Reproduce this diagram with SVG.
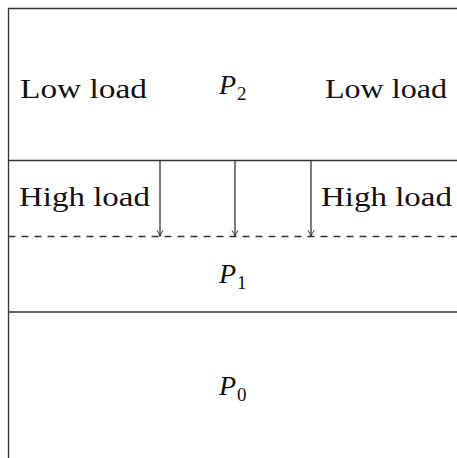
<svg xmlns="http://www.w3.org/2000/svg" width="457" height="458" viewBox="0 0 457 458">
<style>
.ln{stroke:#333;stroke-width:1.3;fill:none}
.ds{stroke:#333;stroke-width:1.3;fill:none;stroke-dasharray:7 6}
.t{font-family:'Liberation Serif','Times New Roman',Tinos,serif;font-size:27px;fill:#111}
.m{font-family:'Liberation Serif','Times New Roman',Tinos,serif;font-size:28px;font-style:italic;fill:#111}
.s{font-family:'Liberation Serif','Times New Roman',Tinos,serif;font-size:19px;font-style:normal;fill:#111}
</style>
<defs>
<marker id="ah" viewBox="0 0 10 10" refX="9" refY="5" markerWidth="8" markerHeight="8" markerUnits="userSpaceOnUse" orient="auto">
<path d="M1,1 Q5,4 9,5 Q5,6 1,9" fill="none" stroke="#333" stroke-width="1.2"/>
</marker>
</defs>
<g id="frame">
<path class="ln" d="M8.5,458 V8.5 H457"/>
<path class="ln" d="M8.5,160.5 H457"/>
<path class="ln" d="M8.5,312 H457"/>
<path class="ds" d="M8.5,236.5 H457"/>
</g>
<g id="region-p2">
<text class="t" font-family="Liberation Serif" x="20" y="98" textLength="127" lengthAdjust="spacingAndGlyphs">Low load</text>
<text class="m" font-family="Liberation Serif" x="219" y="94">P<tspan class="s" dx="1" dy="6">2</tspan></text>
<text class="t" font-family="Liberation Serif" x="325" y="98" textLength="122" lengthAdjust="spacingAndGlyphs">Low load</text>
</g>
<g id="region-high">
<text class="t" font-family="Liberation Serif" x="19" y="206" textLength="131" lengthAdjust="spacingAndGlyphs">High load</text>
<text class="t" font-family="Liberation Serif" x="321" y="206" textLength="131" lengthAdjust="spacingAndGlyphs">High load</text>
</g>
<g id="region-p1">
<text class="m" font-family="Liberation Serif" x="219" y="283">P<tspan class="s" dx="1" dy="6">1</tspan></text>
</g>
<g id="region-p0">
<text class="m" font-family="Liberation Serif" x="219" y="395">P<tspan class="s" dx="1" dy="6">0</tspan></text>
</g>
<g id="connectors">
<line class="ln" x1="160" y1="160.5" x2="160" y2="236.5" marker-end="url(#ah)"/>
<line class="ln" x1="235" y1="160.5" x2="235" y2="236.5" marker-end="url(#ah)"/>
<line class="ln" x1="311" y1="160.5" x2="311" y2="236.5" marker-end="url(#ah)"/>
</g>
</svg>
